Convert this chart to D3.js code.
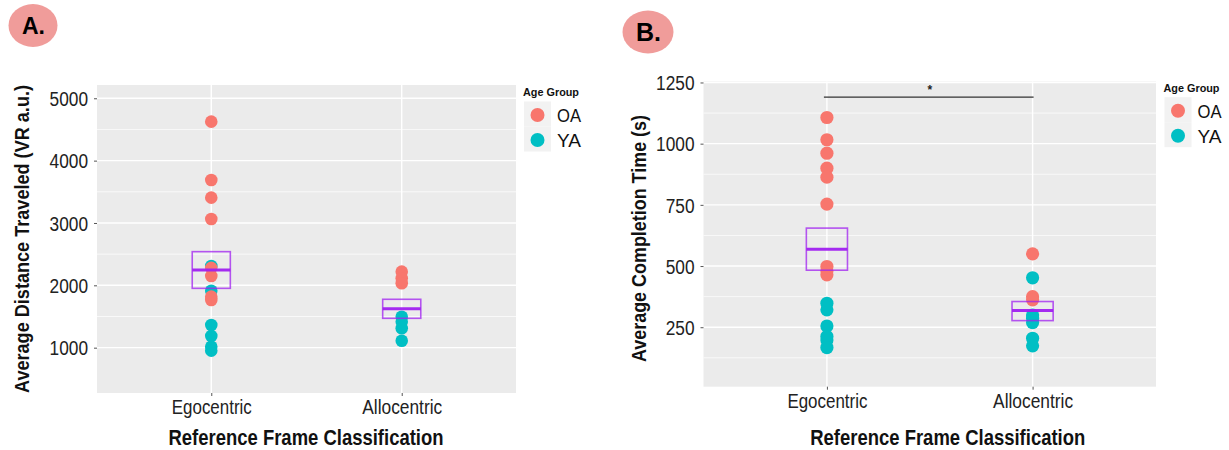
<!DOCTYPE html>
<html>
<head>
<meta charset="utf-8">
<script src="https://cdn.jsdelivr.net/npm/d3@7"></script>
<style>
  html, body { margin: 0; padding: 0; background: #fff; }
  svg { display: block; }
  text { font-family: "Liberation Sans Narrow", "Liberation Sans", Arial, sans-serif; }
</style>
</head>
<body>
<svg id="chart" width="1229" height="450"></svg>
<script>
// ---- data ----
const categories = ["Egocentric", "Allocentric"];
const groups = ["OA", "YA"];
const groupColors = ["#F8766D", "#00BFC4"];

// Panel A: average distance travelled (VR a.u.)
const distEgoOA = [4625, 3690, 3406, 3064, 2280, 2150, 1818, 1765];
const distEgoYA = [2310, 1914, 1364, 1188, 1016, 952];
const distAlloOA = [2219, 2113, 2033];
const distAlloYA = [1497, 1417, 1311, 1112];
const distBoxLow = [1952, 1471];
const distBoxMid = [2246, 1625];
const distBoxHigh = [2540, 1776];
const distTicks = [1000, 2000, 3000, 4000, 5000];
const distMinor = [1500, 2500, 3500, 4500];

// Panel B: average completion time (s)
const timeEgoOA = [1107, 1016, 961, 900, 863, 753, 498, 480, 464];
const timeEgoYA = [348, 321, 255, 212, 198, 167];
const timeAlloOA = [550, 375, 362];
const timeAlloYA = [452, 300, 287, 269, 205, 174];
const timeBoxLow = [483, 277];
const timeBoxMid = [569, 318];
const timeBoxHigh = [655, 355];
const timeTicks = [250, 500, 750, 1000, 1250];
const timeMinor = [125, 375, 625, 875, 1125];
const timeSigValue = 1190;
const timeSigLabel = "*";

const svg = d3.select("#chart");

function points(cat, grp, vals) {
  return vals.map(v => ({ cat, grp, v }));
}

function drawPanel(cfg) {
  const g = svg.append("g");
  const x = d3.scalePoint().domain(cfg.categories).range([cfg.left, cfg.right]).padding(0.6);
  const y = d3.scaleLinear().domain(cfg.domain).range([cfg.bottom, cfg.top]);

  // panel background
  g.append("rect")
    .attr("x", cfg.left).attr("y", cfg.top)
    .attr("width", cfg.right - cfg.left).attr("height", cfg.bottom - cfg.top)
    .attr("fill", "#EBEBEB");

  // grid
  g.selectAll("line.minor").data(cfg.minor).join("line")
    .attr("x1", cfg.left).attr("x2", cfg.right)
    .attr("y1", d => y(d)).attr("y2", d => y(d))
    .attr("stroke", "#fff").attr("stroke-width", 0.7);
  g.selectAll("line.major").data(cfg.ticks).join("line")
    .attr("x1", cfg.left).attr("x2", cfg.right)
    .attr("y1", d => y(d)).attr("y2", d => y(d))
    .attr("stroke", "#fff").attr("stroke-width", 1.4);
  g.selectAll("line.vmajor").data(cfg.categories).join("line")
    .attr("x1", d => x(d)).attr("x2", d => x(d))
    .attr("y1", cfg.top).attr("y2", cfg.bottom)
    .attr("stroke", "#fff").attr("stroke-width", 1.4);

  // axes
  const yAxis = g.append("g").attr("transform", `translate(${cfg.left},0)`)
    .call(d3.axisLeft(y).tickValues(cfg.ticks).tickSize(3).tickPadding(6).tickFormat(d3.format("d")));
  yAxis.select(".domain").remove();
  yAxis.selectAll(".tick line").attr("stroke", "#555");
  yAxis.selectAll(".tick text")
    .attr("fill", "#222").attr("font-size", 20)
    .attr("textLength", d => String(d).length * 9.6)
    .attr("lengthAdjust", "spacingAndGlyphs")
    .attr("dy", "0.36em");

  const xAxis = g.append("g").attr("transform", `translate(0,${cfg.bottom})`)
    .call(d3.axisBottom(x).tickSize(3).tickPadding(6));
  xAxis.select(".domain").remove();
  xAxis.selectAll(".tick line").attr("stroke", "#555");
  xAxis.selectAll(".tick text")
    .attr("fill", "#222").attr("font-size", 19.5)
    .attr("textLength", 80).attr("lengthAdjust", "spacingAndGlyphs")
    .attr("y", cfg.catLabelY - cfg.bottom).attr("dy", 0);

  // titles
  g.append("text")
    .attr("x", (cfg.left + cfg.right) / 2 + cfg.xTitleShift).attr("y", 445)
    .attr("text-anchor", "middle").attr("font-weight", "bold").attr("font-size", 21.5)
    .attr("fill", "#111")
    .attr("textLength", 275).attr("lengthAdjust", "spacingAndGlyphs")
    .text("Reference Frame Classification");
  g.append("text")
    .attr("transform", `translate(${cfg.yTitleX},${cfg.yTitleY}) rotate(-90)`)
    .attr("text-anchor", "middle").attr("font-weight", "bold").attr("font-size", 20.5)
    .attr("fill", "#111")
    .attr("textLength", cfg.yTitleLen).attr("lengthAdjust", "spacingAndGlyphs")
    .text(cfg.yTitle);

  // dots: young adults first, older adults on top
  const color = d3.scaleOrdinal().domain(groups).range(groupColors);
  const pts = [].concat(
    points(categories[0], "YA", cfg.egoYA), points(categories[1], "YA", cfg.alloYA),
    points(categories[0], "OA", cfg.egoOA), points(categories[1], "OA", cfg.alloOA));
  g.selectAll("circle.pt").data(pts).join("circle")
    .attr("cx", d => x(d.cat)).attr("cy", d => y(d.v))
    .attr("r", cfg.r).attr("fill", d => color(d.grp));

  // mean +/- error boxes
  const bw = x.step() * 0.2;
  cfg.categories.forEach((c, i) => {
    g.append("rect")
      .attr("x", x(c) - bw / 2).attr("width", bw)
      .attr("y", y(cfg.boxHigh[i])).attr("height", y(cfg.boxLow[i]) - y(cfg.boxHigh[i]))
      .attr("fill", "none").attr("stroke", "#A020F0").attr("stroke-opacity", 0.75)
      .attr("stroke-width", 1.6);
    g.append("line")
      .attr("x1", x(c) - bw / 2).attr("x2", x(c) + bw / 2)
      .attr("y1", y(cfg.boxMid[i])).attr("y2", y(cfg.boxMid[i]))
      .attr("stroke", "#A020F0").attr("stroke-opacity", 0.95).attr("stroke-width", 3);
  });

  // significance bracket
  if (cfg.sig) {
    g.append("line")
      .attr("x1", x(categories[0]) - 3).attr("x2", x(categories[1]) + 1)
      .attr("y1", y(cfg.sig.value)).attr("y2", y(cfg.sig.value))
      .attr("stroke", "#333").attr("stroke-width", 1.2);
    g.append("text")
      .attr("x", (x(categories[0]) + x(categories[1])) / 2).attr("y", y(cfg.sig.value) - 3)
      .attr("text-anchor", "middle").attr("font-size", 12).attr("font-weight", "bold")
      .attr("fill", "#222").text(cfg.sig.label);
  }

  // legend
  const lg = g.append("g");
  lg.append("text").attr("x", cfg.legX - 1).attr("y", cfg.legY)
    .attr("font-weight", "bold").attr("font-size", 11.5).attr("fill", "#111")
    .attr("textLength", 56).attr("lengthAdjust", "spacingAndGlyphs")
    .text("Age Group");
  groups.forEach((grp, i) => {
    const ky = cfg.legY + 5.5 + i * 25;
    lg.append("rect").attr("x", cfg.legX).attr("y", ky)
      .attr("width", 27).attr("height", 25).attr("fill", "#F2F2F2");
    lg.append("circle").attr("cx", cfg.legX + 13.5).attr("cy", ky + 13.5)
      .attr("r", 7).attr("fill", color(grp));
    lg.append("text").attr("x", cfg.legX + 33).attr("y", ky + 13.5)
      .attr("dy", "0.36em").attr("font-size", 19).attr("fill", "#111")
      .attr("textLength", 24).attr("lengthAdjust", "spacingAndGlyphs")
      .text(grp);
  });

  // panel badge
  svg.append("ellipse").attr("cx", cfg.badge.cx).attr("cy", cfg.badge.cy)
    .attr("rx", cfg.badge.rx).attr("ry", cfg.badge.ry).attr("fill", "#F09C9A");
  svg.append("text").attr("x", cfg.badge.cx + 0.5).attr("y", cfg.badge.cy + cfg.badge.size * 0.36)
    .attr("text-anchor", "middle").attr("font-weight", "bold")
    .attr("font-family", "Liberation Sans, Arial, sans-serif")
    .attr("font-size", cfg.badge.size).attr("fill", "#000").text(cfg.badge.label);
}

drawPanel({
  categories, left: 97, right: 516, top: 85, bottom: 393,
  domain: [273, 5213], ticks: distTicks, minor: distMinor,
  egoOA: distEgoOA, egoYA: distEgoYA, alloOA: distAlloOA, alloYA: distAlloYA,
  boxLow: distBoxLow, boxMid: distBoxMid, boxHigh: distBoxHigh,
  r: 6.3, catLabelY: 414, xTitleShift: -0.5,
  yTitle: "Average Distance Traveled (VR a.u.)", yTitleX: 28.5, yTitleY: 239, yTitleLen: 308,
  legX: 524, legY: 96,
  badge: { cx: 33, cy: 25.5, rx: 24.5, ry: 21.5, size: 23, label: "A." }
});

drawPanel({
  categories, left: 703.5, right: 1156, top: 81.5, bottom: 386.7,
  domain: [7, 1254], ticks: timeTicks, minor: timeMinor,
  egoOA: timeEgoOA, egoYA: timeEgoYA, alloOA: timeAlloOA, alloYA: timeAlloYA,
  boxLow: timeBoxLow, boxMid: timeBoxMid, boxHigh: timeBoxHigh,
  r: 6.6, catLabelY: 408, xTitleShift: 18,
  yTitle: "Average Completion Time (s)", yTitleX: 646, yTitleY: 238.5, yTitleLen: 247,
  legX: 1164.5, legY: 91.7,
  sig: { value: timeSigValue, label: timeSigLabel },
  badge: { cx: 648, cy: 32, rx: 25.5, ry: 21.5, size: 25, label: "B." }
});
</script>
</body>
</html>
